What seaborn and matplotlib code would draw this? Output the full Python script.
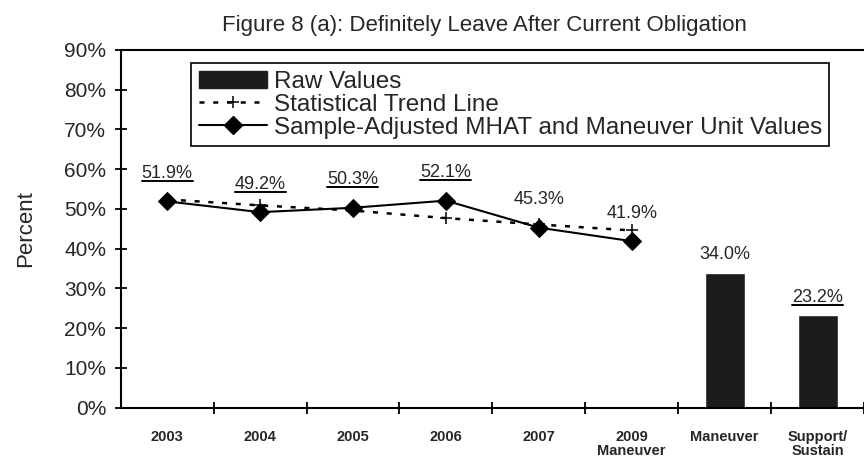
import matplotlib
matplotlib.use("Agg")
import matplotlib.pyplot as plt
from matplotlib.lines import Line2D
from matplotlib.patches import Patch
from matplotlib.transforms import IdentityTransform
import seaborn as sns
import pandas as pd

# categorias do eixo x
categories = ["2003", "2004", "2005", "2006", "2007", "2009\nManeuver", "Maneuver", "Support/\nSustain"]
line_cats = categories[:6]
bar_cats = categories[6:]

# valores (%)
adjusted_values = [51.9, 49.2, 50.3, 52.1, 45.3, 41.9]
trend_values = [52.4, 50.9, 49.6, 47.7, 46.1, 44.6]
raw_values = [34.0, 23.2]

# rótulos sublinhados = significativo
adjusted_underline = [True, True, True, True, False, False]
raw_underline = [False, True]

yticks = [0, 10, 20, 30, 40, 50, 60, 70, 80, 90]

sns.set_style("white")
plt.rcParams["font.family"] = ["Liberation Sans", "DejaVu Sans"]

fig = plt.figure(figsize=(8.64, 4.59), dpi=100)
ax = fig.add_axes([0.1397, 0.1118, 0.8603, 0.7793])

df_bar = pd.DataFrame({"cat": bar_cats, "val": raw_values})
df_adj = pd.DataFrame({"cat": line_cats, "val": adjusted_values})
df_trend = pd.DataFrame({"cat": line_cats, "val": trend_values})

trend_style = dict(color="black", lw=1.8, linestyle=(0, (2, 3.5)), marker="+",
                   markersize=8, mew=1.1, mec="black")
adj_style = dict(color="black", lw=1.5, marker="D", markersize=9, mec="black",
                 mfc="black")

sns.barplot(data=df_bar, x="cat", y="val", order=categories, color="#1c1c1c",
            saturation=1, width=0.43, ax=ax, zorder=2)
sns.lineplot(data=df_trend, x="cat", y="val", sort=False, ax=ax, zorder=3, **trend_style)
sns.lineplot(data=df_adj, x="cat", y="val", sort=False, ax=ax, zorder=4, **adj_style)

ax.set_xlim(-0.5, 7.4)
ax.set_ylim(0, 90)
ax.set_yticks(yticks)
ax.set_yticklabels([f"{v}%" for v in yticks], fontsize=15)

# marcas entre categorias, rótulos no centro
ax.set_xticks([i + 0.5 for i in range(len(categories))])
ax.set_xticklabels([])
ax.set_xticks(range(len(categories)), minor=True)
ax.set_xticklabels(categories, minor=True, fontsize=10.5, fontweight="bold",
                   linespacing=1.0)
ax.tick_params(axis="x", which="minor", bottom=True, length=0, pad=16)
ax.tick_params(axis="both", which="major", bottom=True, left=True,
               direction="inout", length=9, width=1.3, color="black")
ax.tick_params(axis="y", pad=6)

for side in ["left", "bottom", "top"]:
    ax.spines[side].set_visible(True)
    ax.spines[side].set_color("black")
    ax.spines[side].set_linewidth(1.5)
ax.spines["right"].set_visible(False)

ax.set_xlabel("")
ax.set_ylabel("Percent", fontsize=16, labelpad=20)
ax.set_title("Figure 8 (a): Definitely Leave After Current Obligation",
             fontsize=16, pad=14, x=0.49)

labels = []
for cat, v, u in zip(line_cats, adjusted_values, adjusted_underline):
    t = ax.annotate(f"{v:.1f}%", (cat, v), xytext=(0, 20), textcoords="offset points",
                    ha="center", va="center", fontsize=13)
    labels.append((t, u))
for cat, v, u in zip(bar_cats, raw_values, raw_underline):
    t = ax.annotate(f"{v:.1f}%", (cat, v), xytext=(0, 13), textcoords="offset points",
                    ha="center", va="center", fontsize=13)
    labels.append((t, u))

handles = [
    Patch(facecolor="#1c1c1c", edgecolor="#1c1c1c"),
    Line2D([], [], **trend_style),
    Line2D([], [], **adj_style),
]
leg = ax.legend(handles, ["Raw Values", "Statistical Trend Line",
                          "Sample-Adjusted MHAT and Maneuver Unit Values"],
                loc="upper left", bbox_to_anchor=(0.095, 0.963), fontsize=17.5,
                frameon=True, fancybox=False, edgecolor="black", framealpha=1,
                borderpad=0.3, labelspacing=0.05, handlelength=2.8,
                handletextpad=0.3, borderaxespad=0)
leg.get_frame().set_linewidth(1.2)

fig.canvas.draw()
renderer = fig.canvas.get_renderer()
for t, u in labels:
    if u:
        bb = t.get_window_extent(renderer)
        fig.add_artist(Line2D([bb.x0, bb.x1], [bb.y0 + 1, bb.y0 + 1],
                              transform=IdentityTransform(), color="black", lw=1.4))

fig.savefig("out.png", dpi=100)
